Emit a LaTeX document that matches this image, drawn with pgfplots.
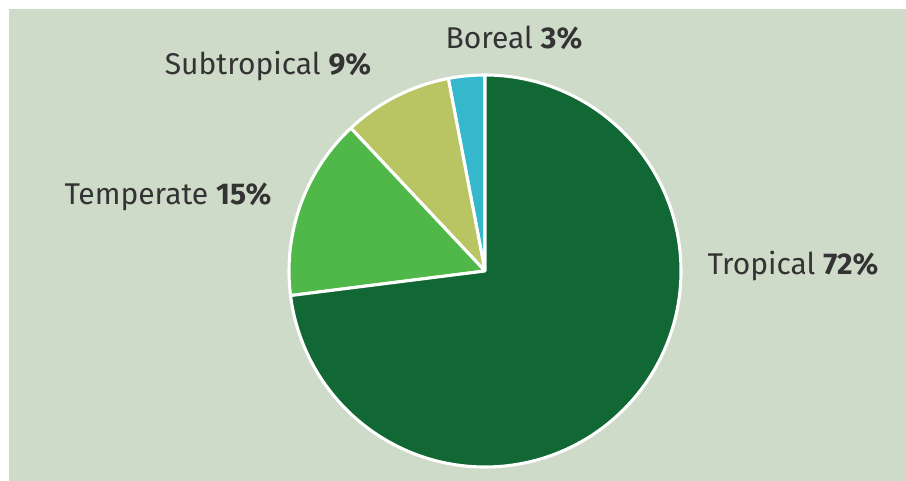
\documentclass[border=0pt]{standalone}
\usepackage{pgfplots}
\pgfplotsset{compat=1.18}
\usepackage{fontspec}
\setmainfont{Fira Sans}
\definecolor{bgc}{HTML}{CFDBC9}
\definecolor{tropical}{HTML}{116834}
\definecolor{temperate}{HTML}{50B848}
\definecolor{subtropical}{HTML}{B9C462}
\definecolor{boreal}{HTML}{35B8CB}
\definecolor{txt}{HTML}{333333}
\begin{document}
\begin{tikzpicture}
% shares in percent, drawn counter-clockwise from the top
\def\vBoreal{3}
\def\vSub{9}
\def\vTemp{15}
\def\vTrop{72}
\pgfmathsetmacro{\aA}{90}
\pgfmathsetmacro{\aB}{\aA+3.6*\vBoreal}
\pgfmathsetmacro{\aC}{\aB+3.6*\vSub}
\pgfmathsetmacro{\aD}{\aC+3.6*\vTemp}
\pgfmathsetmacro{\aE}{450}
\begin{axis}[
    scale only axis,
    width=679.5pt, height=360.75pt,
    xmin=0, xmax=906, ymin=0, ymax=481,
    y dir=reverse,
    hide axis,
    clip=false,
]
\fill[white] (axis cs:0,0) rectangle (axis cs:906,481);
\fill[bgc] (axis cs:9,9) rectangle (axis cs:906,481);

\addplot[fill=boreal, draw=white, line width=2.3pt, line join=round, domain=\aA:\aB, samples=20, variable=\t]
    ({485+196*cos(t)},{271-196*sin(t)}) -- (axis cs:485,271) -- cycle;
\addplot[fill=subtropical, draw=white, line width=2.3pt, line join=round, domain=\aB:\aC, samples=40, variable=\t]
    ({485+196*cos(t)},{271-196*sin(t)}) -- (axis cs:485,271) -- cycle;
\addplot[fill=temperate, draw=white, line width=2.3pt, line join=round, domain=\aC:\aD, samples=50, variable=\t]
    ({485+196*cos(t)},{271-196*sin(t)}) -- (axis cs:485,271) -- cycle;
\addplot[fill=tropical, draw=white, line width=2.3pt, line join=round, domain=\aD:\aE, samples=200, variable=\t]
    ({485+196*cos(t)},{271-196*sin(t)}) -- (axis cs:485,271) -- cycle;

\node[txt, font=\fontsize{22.5}{26}\selectfont, anchor=center] at (axis cs:514,38) {Boreal \textbf{\vBoreal\%}};
\node[txt, font=\fontsize{22.5}{26}\selectfont, anchor=center] at (axis cs:268,66) {Subtropical \textbf{\vSub\%}};
\node[txt, font=\fontsize{22.5}{26}\selectfont, anchor=center] at (axis cs:168,197) {Temperate \textbf{\vTemp\%}};
\node[txt, font=\fontsize{22.5}{26}\selectfont, anchor=center] at (axis cs:793,266) {Tropical \textbf{\vTrop\%}};
\end{axis}
\end{tikzpicture}
\end{document}
